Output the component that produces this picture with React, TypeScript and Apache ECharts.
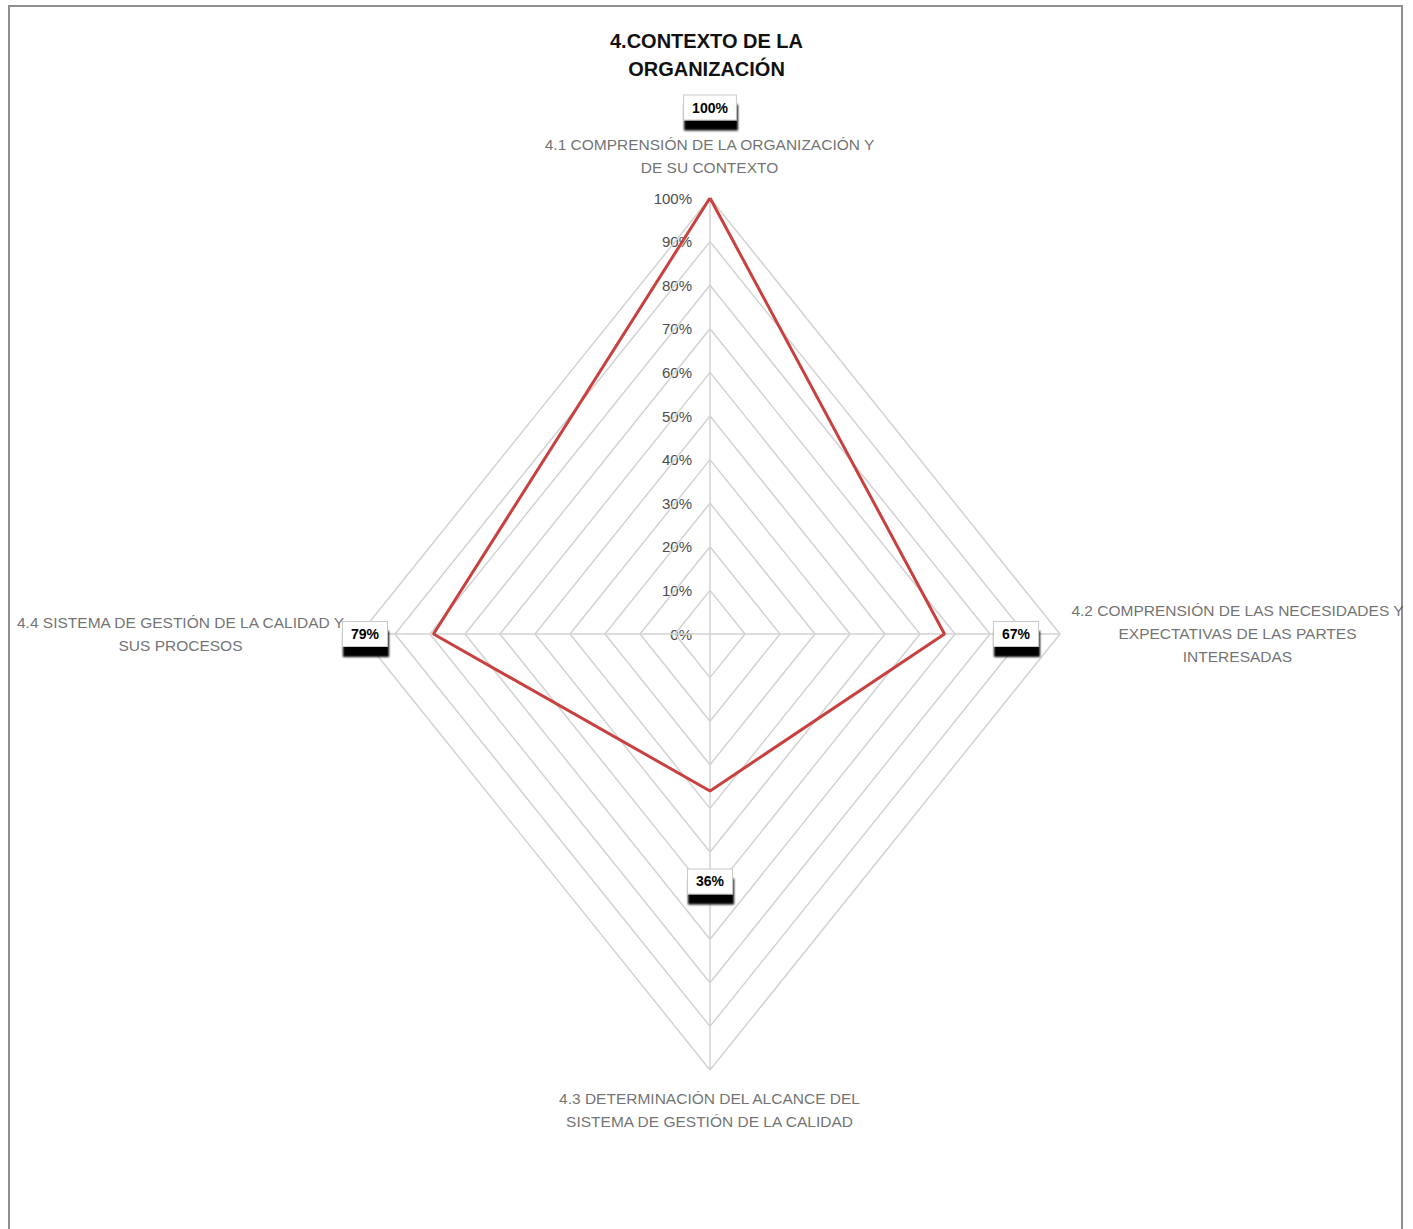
import React, { useEffect, useRef } from "react";
import * as echarts from "echarts";

const title = "4.CONTEXTO DE LA\nORGANIZACIÓN";
const categories = [
  "4.1 COMPRENSIÓN DE LA ORGANIZACIÓN Y\nDE SU CONTEXTO",
  "4.2 COMPRENSIÓN DE LAS NECESIDADES Y\nEXPECTATIVAS DE LAS PARTES\nINTERESADAS",
  "4.3 DETERMINACIÓN DEL ALCANCE DEL\nSISTEMA DE GESTIÓN DE LA CALIDAD",
  "4.4 SISTEMA DE GESTIÓN DE LA CALIDAD Y\nSUS PROCESOS",
];
const values = [1.0, 0.67, 0.36, 0.79];
const tickValues = [0, 0.1, 0.2, 0.3, 0.4, 0.5, 0.6, 0.7, 0.8, 0.9, 1.0];
const tickLabels = ["0%", "10%", "20%", "30%", "40%", "50%", "60%", "70%", "80%", "90%", "100%"];

// axis directions: top, right, bottom, left
const dirs: [number, number][] = [
  [0, 1],
  [1, 0],
  [0, -1],
  [-1, 0],
];

const FONT = "'Liberation Sans Narrow', 'Arial Narrow', 'Liberation Sans', Arial, sans-serif";
const GRID_COLOR = "#d2d2d2";
const LINE_COLOR = "#c8413f";

export default function App() {
  const ref = useRef<HTMLDivElement>(null);
  useEffect(() => {
    if (!ref.current) return;
    const chart = echarts.init(ref.current, undefined, { renderer: "svg" });

    const maxV = tickValues[tickValues.length - 1];

    const ringSeries = tickValues
      .filter((t) => t > 0)
      .map((r) => ({
        type: "line",
        silent: true,
        symbol: "none",
        xAxisIndex: 0,
        yAxisIndex: 0,
        lineStyle: { color: GRID_COLOR, width: 1.5 },
        data: [...dirs, dirs[0]].map((d) => [d[0] * r, d[1] * r]),
        z: 1,
      }));

    const spokeSeries = dirs.map((d) => ({
      type: "line",
      silent: true,
      symbol: "none",
      xAxisIndex: 0,
      yAxisIndex: 0,
      lineStyle: { color: GRID_COLOR, width: 1.5 },
      data: [
        [0, 0],
        [d[0] * maxV, d[1] * maxV],
      ],
      z: 1,
    }));

    const labelPos = [
      { position: "top", distance: 78 },
      { position: "right", distance: 49 },
      { position: "bottom", distance: 78 },
      { position: "left", distance: 46 },
    ];

    const dataPts = values.map((v, i) => ({
      value: [dirs[i][0] * v, dirs[i][1] * v],
      label: {
        show: true,
        formatter: Math.round(v * 100) + "%",
        ...labelPos[i],
      },
    }));
    const dataSeries = {
      type: "line",
      symbol: "circle",
      symbolSize: 1,
      showSymbol: true,
      showAllSymbol: true,
      xAxisIndex: 0,
      yAxisIndex: 0,
      itemStyle: { color: "transparent" },
      lineStyle: { color: LINE_COLOR, width: 3 },
      data: [...dataPts, { value: dataPts[0].value, label: { show: false } }],
      label: {
        fontFamily: FONT,
        fontWeight: "bold",
        fontSize: 14,
        color: "#000",
        backgroundColor: "#fff",
        borderColor: "#c8c8c8",
        borderWidth: 1,
        padding: [5, 8, 5, 8],
        shadowColor: "rgba(0,0,0,1)",
        shadowBlur: 2,
        shadowOffsetX: 1,
        shadowOffsetY: 10,
      },
      labelLayout: { hideOverlap: false },
      z: 5,
    };

    const catOffsets = [
      [0, -42],
      [178, 0],
      [0, 40],
      [-179, 0],
    ];
    const catSeries = {
      type: "scatter",
      silent: true,
      symbolSize: 1,
      xAxisIndex: 0,
      yAxisIndex: 0,
      itemStyle: { color: "transparent" },
      data: categories.map((c, i) => ({
        value: [dirs[i][0] * maxV, dirs[i][1] * maxV],
        label: {
          show: true,
          formatter: c,
          position: catOffsets[i],
          align: "center",
          verticalAlign: "middle",
          fontFamily: FONT,
          fontSize: 15.5,
          lineHeight: 23,
          color: "#4d4d4d",
        },
      })),
      z: 4,
    };

    chart.setOption({
      animation: false,
      backgroundColor: "#fff",
      title: {
        text: title,
        left: "center",
        top: 22,
        textStyle: {
          fontFamily: FONT,
          fontSize: 20,
          fontWeight: "bold",
          lineHeight: 28,
          color: "#111",
        },
      },
      graphic: [
        {
          type: "rect",
          shape: { x: 9, y: 6, width: 1393, height: 1260 },
          style: { fill: "none", stroke: "#8f8f8f", lineWidth: 2 },
          silent: true,
          z: 0,
        },
      ],
      grid: [
        { left: 360, top: 198, width: 700, height: 872 },
        { left: 710, top: 198, width: 10, height: 436 },
      ],
      xAxis: [
        { type: "value", min: -1, max: 1, show: false, gridIndex: 0 },
        { type: "value", min: 0, max: 1, show: false, gridIndex: 1 },
      ],
      yAxis: [
        { type: "value", min: -1, max: 1, show: false, gridIndex: 0 },
        {
          type: "value",
          gridIndex: 1,
          min: 0,
          max: 1,
          interval: 0.1,
          axisLine: { show: false },
          axisTick: { show: false },
          splitLine: { show: false },
          axisLabel: {
            margin: 18,
            color: "#4d4d4d",
            fontFamily: FONT,
            fontSize: 15,
            formatter: (v: number) => {
              const idx = tickValues.findIndex((t) => Math.abs(t - v) < 1e-6);
              return idx >= 0 ? tickLabels[idx] : "";
            },
          },
        },
      ],
      series: [...ringSeries, ...spokeSeries, dataSeries, catSeries],
    });

    return () => chart.dispose();
  }, []);

  return (
    <div
      ref={ref}
      style={{ position: "absolute", left: 0, top: 0, width: 1413, height: 1229 }}
    />
  );
}
